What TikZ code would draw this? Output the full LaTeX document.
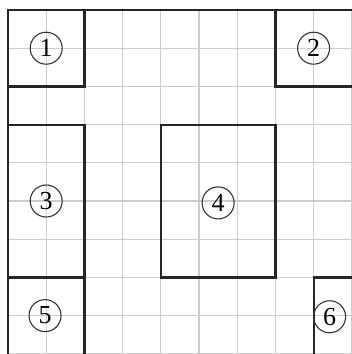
\documentclass[tikz,border=0pt]{standalone}
\usepackage{fontspec}
\setmainfont{Liberation Serif}
\begin{document}
\begin{tikzpicture}[x=38.2pt,y=-38.2pt,
  gridline/.style={draw=black!20,line width=1.2pt},
  region/.style={draw=black!85,line width=2.2pt},
  badge/.style={circle,draw=black!80,line width=1.1pt,inner sep=0pt,minimum size=32pt,font=\fontsize{26}{26}\selectfont}]
\useasboundingbox (-8pt,10pt) rectangle (344pt,-344pt);
\clip (-8pt,10pt) rectangle (344pt,-344pt);
\draw[gridline,xstep=38.2pt,ystep=38.2pt] (0,0) grid (9.5,9.5);
\draw[region] (0,9.5) -- (0,0) -- (9.5,0);
\draw[region] (0,0) rectangle (2,2);
\draw[region] (7,0) rectangle (9.5,2);
\draw[region] (0,3) rectangle (2,7);
\draw[region] (4,3) rectangle (7,7);
\draw[region] (0,7) rectangle (2,9.5);
\draw[region] (8,7) rectangle (9.5,9.5);
\node[badge] (n1) at (1,1) {1};
\node[badge] (n2) at (8,1) {2};
\node[badge] (n3) at (1,5) {3};
\node[badge] (n4) at (5.5,5.05) {4};
\node[badge] (n5) at (0.97,8) {5};
\node[badge] (n6) at (8.42,8.03) {6};
\end{tikzpicture}
\end{document}
